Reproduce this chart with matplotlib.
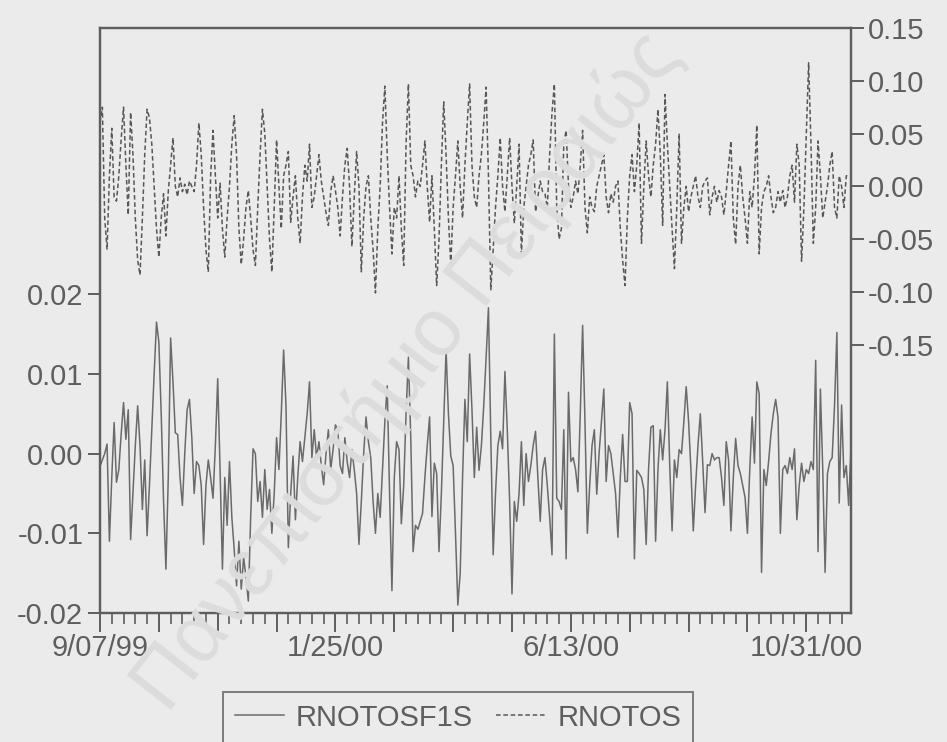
import matplotlib
matplotlib.use("Agg")
import matplotlib.pyplot as plt
from matplotlib.ticker import FixedLocator, MultipleLocator
import pandas as pd

# ---- data (values in thousandths) ----
start_date = "1999-09-07"
n_obs = 320
label_positions = [0, 100, 200, 300]

rnotosf1s_milli = [
    -1.6, -0.8, 0.0, 1.2, -11.0, -3.0, 3.9, -3.6, -2.0, 2.5,
    6.4, 1.8, 5.5, -10.8, -5.0, 1.0, 6.0, 1.0, -7.0, -0.8,
    -10.3, -4.0, 3.0, 10.0, 16.5, 14.0, 5.0, -6.0, -14.5, -3.0,
    14.5, 9.0, 2.6, 2.4, -3.0, -6.5, 0.0, 5.5, 6.8, 2.0,
    -5.0, -1.0, -1.5, -4.0, -11.4, -4.0, -0.8, -3.0, -5.6, 1.0,
    9.4, -2.0, -14.5, -3.0, -9.0, -1.0, -8.0, -12.0, -16.6, -11.0,
    -17.0, -13.0, -15.5, -18.5, -8.0, 0.6, 0.0, -6.0, -3.5, -8.0,
    -2.0, -7.0, -4.5, -10.0, -5.0, 2.0, -2.0, 5.0, 13.0, 6.0,
    -11.8, -5.0, -0.3, -8.3, -3.0, 1.5, -1.0, 2.0, 5.0, 9.0,
    -0.5, 3.0, -0.5, 1.5, -1.5, -3.9, 0.0, 3.0, -2.0, 0.5,
    3.6, 3.0, -1.5, -2.5, 2.0, -1.0, -3.0, 0.5, -2.0, -5.0,
    -11.4, -6.0, 0.0, 4.6, 1.5, -0.5, -6.0, -10.0, -5.0, -8.0,
    -2.0, 4.0, 8.5, -5.0, -17.2, -3.0, 1.5, 0.5, -8.8, -4.0,
    5.0, 12.1, 2.0, -12.3, -9.0, -9.5, -8.5, -7.5, -3.0, 1.0,
    4.6, -7.9, -1.2, -2.5, -12.3, -5.0, 4.0, 13.0, 5.0, -0.3,
    -1.5, -10.0, -19.0, -15.0, -3.0, 6.8, 1.5, 12.5, 5.5, -3.0,
    3.3, -2.1, 1.0, 6.0, 12.0, 18.3, 2.0, -12.7, -5.0, 1.0,
    2.8, 0.6, 10.3, 3.0, -6.0, -17.6, -6.0, -8.5, -5.0, 1.5,
    -6.5, 0.0, -3.5, -1.5, 1.0, 2.8, -3.0, -8.5, -2.0, -0.5,
    -4.0, -8.0, -12.7, 15.0, -5.6, -6.0, -7.0, 3.0, -13.2, 7.7,
    -1.0, -0.5, -2.0, -4.8, 5.0, 16.1, 4.0, -10.0, -4.0, 1.0,
    3.0, -5.1, 0.0, 4.0, 8.1, -3.5, 1.0, 0.0, -2.5, -5.0,
    -10.5, -3.0, 2.4, -3.5, -3.5, 6.4, 5.0, -13.2, -2.1, -2.5,
    -3.0, -4.5, -11.4, -2.0, 3.3, 3.5, -11.0, -2.0, 3.0, -0.8,
    3.0, 9.0, -1.5, -9.7, -0.8, -3.0, 0.5, 0.0, 4.0, 8.4,
    4.1, -2.0, -9.7, -4.0, 1.0, 5.0, -1.0, -7.4, -1.4, -1.5,
    0.0, -0.8, -0.5, -0.5, -3.0, -6.5, 1.5, -0.8, -9.7, -3.0,
    1.9, -1.5, -2.5, -4.0, -5.5, -10.0, -2.0, 4.6, -1.2, 9.0,
    7.5, -14.9, -2.0, -4.0, -1.0, 2.5, 5.0, 6.8, 4.5, -10.0,
    -2.0, -1.5, -2.5, -0.5, -2.0, 0.6, -8.3, -4.0, -1.2, -3.5,
    -2.0, -2.5, -1.0, -2.0, 11.7, -12.3, 8.1, -2.0, -14.9, -2.5,
    -1.0, -0.5, 6.0, 15.2, -6.2, 6.1, -3.0, -1.5, -6.5, 0.8,
]

rnotos_milli = [
    60, 75, -30, -60, 10, 55, -10, -14, 10, 45,
    75, 20, -27, 70, 30, -30, -70, -84, -30, 30,
    73, 65, 40, 0, -40, -67, -30, -7, -47, -5,
    20, 46, 0, -10, 8, -5, 2, -8, 5, 0,
    -5, 20, 60, 30, -20, -60, -81, 10, 53, 10,
    -30, 3, -40, -67, -30, 0, 40, 67, 30, -40,
    -74, -50, -20, -4, -30, -60, -75, -20, 30, 73,
    50, 0, -50, -81, -20, 44, 0, -40, 10, 20,
    33, -34, -10, 10, -30, -54, -10, 20, 5, 40,
    -20, -10, 10, 30, 5, -10, -25, -37, -5, 10,
    -4, -20, -47, -10, 20, 36, 0, -57, -10, 33,
    0, -81, -30, 0, 10, -30, -60, -101, -40, 0,
    60, 95, 30, -20, -64, -20, -30, 10, -40, -75,
    40, 97, 20, 10, -10, 5, 0, 20, 43, 0,
    -34, 10, -40, -94, -50, 20, 80, 30, -30, -74,
    -20, 10, 43, 0, -30, 20, 60, 97, 20, -10,
    -20, 10, 30, 60, 94, 10, -98, -60, -20, 10,
    46, 0, -24, 10, 46, 0, -35, 0, 40, -64,
    -20, 0, 20, 30, 44, -24, -10, 5, -5, -7,
    -20, 30, 70, 97, -20, -50, -40, 40, 53, 0,
    -20, -10, 5, -7, 20, 53, -20, -44, -10, -20,
    -24, 0, 10, 20, 30, -10, -25, -7, -15, 0,
    5, -40, -70, -94, -30, 10, 30, -5, 20, 60,
    -54, 0, 43, 10, -10, 20, 40, 73, 30, -37,
    87, 40, 0, -40, -78, -20, 50, -54, -20, 0,
    -24, -10, 0, 10, -10, -20, 0, 5, 8, -27,
    -10, 0, -15, -4, -10, -27, -5, 20, 43, -30,
    -55, 0, 20, -10, -30, -54, -5, -20, 10, 58,
    -64, -20, -5, 0, 10, -10, -25, -20, -5, -15,
    -4, -20, -10, 10, 20, -15, 40, 20, -71, -20,
    50, 117, 40, -54, -20, 43, 10, -30, -15, 0,
    20, 33, -20, -30, 10, 0, -20, 10, 10, 10,
]

left_ticks = [-0.02, -0.01, 0.00, 0.01, 0.02]
right_ticks = [-0.15, -0.10, -0.05, 0.00, 0.05, 0.10, 0.15]

# ---- build ----
dates = pd.bdate_range(start_date, periods=n_obs)
x = list(range(n_obs))
y_solid = [v / 1000.0 for v in rnotosf1s_milli]
y_dash = [v / 1000.0 for v in rnotos_milli]

def fmt_date(d):
    return f"{d.month}/{d.day:02d}/{d.year % 100:02d}"

BG = "#ebebeb"
INK = "#5e5e5e"
LINE = "#6a6a6a"
DASH_STYLE = (0, (3.0, 1.8))

plt.rcParams["font.family"] = ["Liberation Sans", "DejaVu Sans"]

fig = plt.figure(figsize=(9.47, 7.42), dpi=100, facecolor=BG)

# watermark
fig.text(0.43, 0.50, "Πανεπιστήμιο Πειραιώς", rotation=52, fontsize=58,
         color="#dcdcdc", ha="center", va="center", zorder=0)

W, H = 947, 742
L, R, T, B = 100, 851, 28, 613
ax = fig.add_axes([L / W, 1 - B / H, (R - L) / W, (B - T) / H])
ax.set_facecolor("none")
ax2 = ax.twinx()

ax.plot(x, y_solid, color=LINE, lw=1.1)
ax2.plot(x, y_dash, color="#575757", lw=1.1, linestyle=DASH_STYLE)

ax.set_xlim(0, n_obs - 1)
ax.set_ylim(-0.02, 0.0534)
ax2.set_ylim(-0.4042, 0.15)

for a in (ax, ax2):
    for s in a.spines.values():
        s.set_color(INK)
        s.set_linewidth(1.6)

# x ticks
ax.xaxis.set_major_locator(FixedLocator(list(range(0, n_obs, 25))))
ax.xaxis.set_minor_locator(MultipleLocator(5))
ax.set_xticklabels([fmt_date(dates[i]) if i in label_positions else "" for i in range(0, n_obs, 25)])
ax.tick_params(axis="x", which="major", length=14, width=1.4, color=INK,
               labelsize=21, labelcolor=INK, pad=1)
ax.tick_params(axis="x", which="minor", length=8, width=1.2, color=INK)

ax.set_yticks(left_ticks)
ax.set_yticklabels([f"{v:.2f}" for v in left_ticks])
ax.tick_params(axis="y", length=9, width=1.4, color=INK, labelsize=21,
               labelcolor=INK, pad=3)

ax2.set_yticks(right_ticks)
ax2.set_yticklabels([f"{v:.2f}" for v in right_ticks])
ax2.tick_params(axis="y", length=9, width=1.4, color=INK, labelsize=21,
                labelcolor=INK, pad=3)

# legend
h1, = ax.plot([], [], color=LINE, lw=1.1)
h2, = ax.plot([], [], color="#575757", lw=1.1, linestyle=DASH_STYLE)
leg = fig.legend([h1, h2], ["RNOTOSF1S", "RNOTOS"], ncol=2,
                 loc="upper left", bbox_to_anchor=(223 / W, 1 - 692 / H),
                 frameon=True, fancybox=False, edgecolor=INK, facecolor=BG,
                 fontsize=21, handlelength=1.7, handletextpad=0.4,
                 columnspacing=0.8, borderpad=0.4, borderaxespad=0)
for t in leg.get_texts():
    t.set_color(INK)
leg.get_frame().set_linewidth(1.4)

fig.savefig("out.png", dpi=100, facecolor=BG)
